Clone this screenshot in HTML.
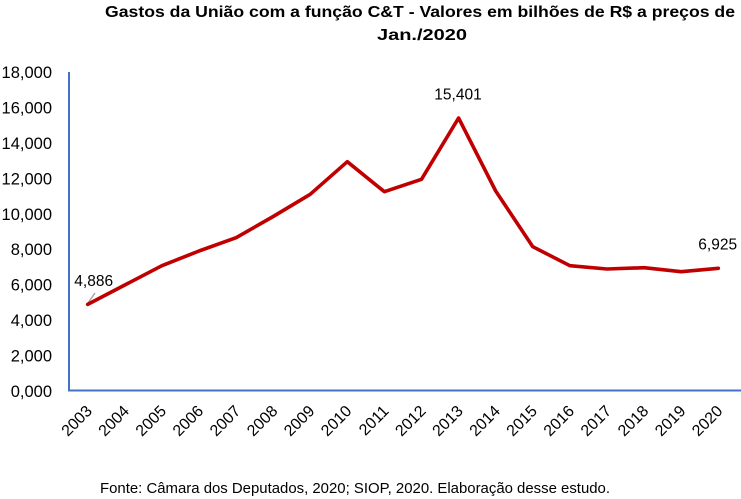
<!DOCTYPE html>
<html>
<head>
<meta charset="utf-8">
<style>
  html, body { margin:0; padding:0; background:#ffffff; }
  body { width:741px; height:499px; overflow:hidden; }
  svg { display:block; }
  text { font-family: "Liberation Sans", "DejaVu Sans", sans-serif; fill:#000; }
</style>
</head>
<body>
<svg width="741" height="499" viewBox="0 0 741 499" xmlns="http://www.w3.org/2000/svg">
  <rect x="0" y="0" width="741" height="499" fill="#ffffff"/>

  <!-- Title -->
  <text x="105" y="17" font-size="16" font-weight="bold" textLength="630" lengthAdjust="spacingAndGlyphs">Gastos da União com a função C&amp;T - Valores em bilhões de R$ a preços de</text>
  <text x="377" y="40" font-size="16" font-weight="bold" textLength="90" lengthAdjust="spacingAndGlyphs">Jan./2020</text>

  <!-- Y tick labels -->
  <g font-size="16.5" text-anchor="end">
    <text x="52" y="78">18,000</text>
    <text x="52" y="113.5">16,000</text>
    <text x="52" y="149">14,000</text>
    <text x="52" y="184.5">12,000</text>
    <text x="52" y="220">10,000</text>
    <text x="52" y="255">8,000</text>
    <text x="52" y="290.5">6,000</text>
    <text x="52" y="326">4,000</text>
    <text x="52" y="361.5">2,000</text>
    <text x="52" y="397">0,000</text>
  </g>

  <!-- Axes -->
  <line x1="69" y1="72" x2="69" y2="391" stroke="#4472C4" stroke-width="2"/>
  <line x1="68" y1="390.5" x2="741" y2="390.5" stroke="#4472C4" stroke-width="2"/>

  <!-- Leader line -->
  <line x1="88" y1="303" x2="95" y2="293" stroke="#A6A6A6" stroke-width="1.5"/>

  <!-- Series -->
  <polyline fill="none" stroke="#C00000" stroke-width="3.6" stroke-linejoin="round" stroke-linecap="round"
    points="87.7,304.4 124.8,285 161.9,265.7 199,251 236.1,237.7 273.2,216.5 310.2,194.3 347.3,161.7 384.4,191.7 421.5,179.3 458.6,118 495.7,191 532.8,246.7 569.9,265.7 607,269 644.1,267.7 681.2,271.7 718.3,268.3"/>

  <!-- Data labels -->
  <g font-size="15.5">
    <text x="74.3" y="286">4,886</text>
    <text x="434.3" y="99.5">15,401</text>
    <text x="698.3" y="249.5">6,925</text>
  </g>

  <!-- X tick labels (rotated -45) -->
  <g font-size="16" text-anchor="end">
    <text transform="translate(93,412) rotate(-45)">2003</text>
    <text transform="translate(130.1,412) rotate(-45)">2004</text>
    <text transform="translate(167.2,412) rotate(-45)">2005</text>
    <text transform="translate(204.3,412) rotate(-45)">2006</text>
    <text transform="translate(241.4,412) rotate(-45)">2007</text>
    <text transform="translate(278.5,412) rotate(-45)">2008</text>
    <text transform="translate(315.5,412) rotate(-45)">2009</text>
    <text transform="translate(352.6,412) rotate(-45)">2010</text>
    <text transform="translate(389.7,412) rotate(-45)">2011</text>
    <text transform="translate(426.8,412) rotate(-45)">2012</text>
    <text transform="translate(463.9,412) rotate(-45)">2013</text>
    <text transform="translate(501,412) rotate(-45)">2014</text>
    <text transform="translate(538.1,412) rotate(-45)">2015</text>
    <text transform="translate(575.2,412) rotate(-45)">2016</text>
    <text transform="translate(612.3,412) rotate(-45)">2017</text>
    <text transform="translate(649.4,412) rotate(-45)">2018</text>
    <text transform="translate(686.5,412) rotate(-45)">2019</text>
    <text transform="translate(723.6,412) rotate(-45)">2020</text>
  </g>

  <!-- Footer -->
  <text x="100" y="493" font-size="15" textLength="510" lengthAdjust="spacingAndGlyphs">Fonte: Câmara dos Deputados, 2020; SIOP, 2020. Elaboração desse estudo.</text>
</svg>
</body>
</html>
